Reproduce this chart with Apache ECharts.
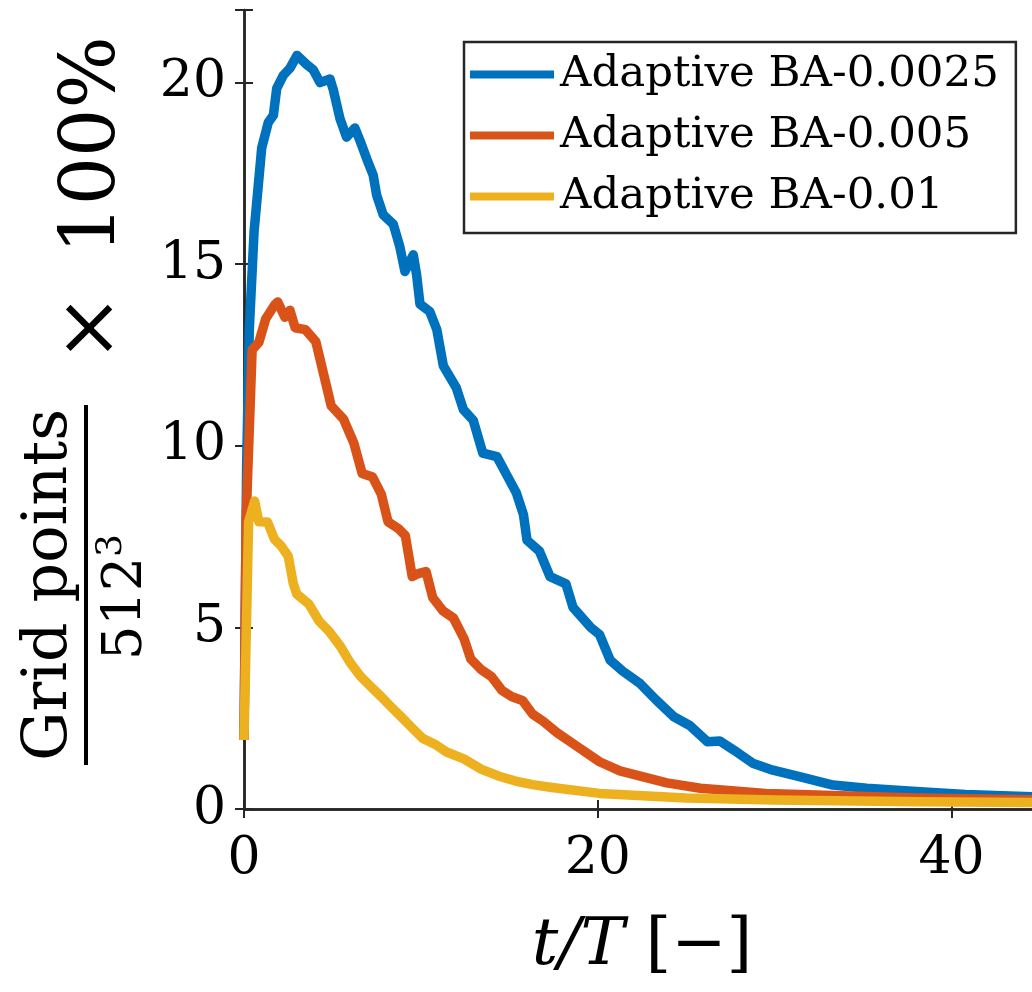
<!DOCTYPE html>
<html>
<head>
<meta charset="utf-8">
<script src="https://cdn.jsdelivr.net/npm/echarts@6/dist/echarts.min.js"></script>
<style>html,body{margin:0;padding:0;background:#fff;}#c{width:1032px;height:992px;}</style>
</head>
<body>
<div id="c"></div>
<script>
const seriesNames = ['Adaptive BA-0.0025', 'Adaptive BA-0.005', 'Adaptive BA-0.01'];
const xTicks = [0, 20, 40];
const yTicks = [0, 5, 10, 15, 20];

const tBlue = [0, 0.15, 0.3, 0.57, 1.0, 1.37, 1.66, 1.85, 2.22, 2.6, 3.0, 3.54, 3.92, 4.3, 4.86, 5.05, 5.43, 5.8, 6.27, 6.56, 6.94, 7.3, 7.5, 7.87, 8.44, 8.8, 9.1, 9.57, 9.76, 9.95, 10.5, 10.9, 11.27, 12.0, 12.4, 12.96, 13.5, 14.3, 14.85, 15.4, 15.8, 16.0, 16.7, 17.3, 18.2, 18.6, 19.6, 20.1, 20.7, 21.4, 22.4, 23.3, 24.3, 25.2, 26.2, 26.9, 27.7, 28.8, 29.9, 31.4, 33.3, 35.2, 38.0, 40.8, 45];
const vBlue = [1.9, 9.5, 13.2, 15.9, 18.2, 18.9, 19.1, 19.84, 20.2, 20.4, 20.75, 20.5, 20.35, 20.0, 20.1, 19.8, 19.0, 18.5, 18.75, 18.4, 17.9, 17.46, 16.9, 16.36, 16.1, 15.5, 14.8, 15.26, 14.7, 13.9, 13.7, 13.2, 12.2, 11.6, 11.0, 10.7, 9.8, 9.7, 9.2, 8.7, 8.1, 7.4, 7.1, 6.4, 6.2, 5.55, 5.0, 4.8, 4.1, 3.8, 3.45, 3.0, 2.54, 2.3, 1.85, 1.87, 1.62, 1.25, 1.07, 0.89, 0.66, 0.57, 0.48, 0.4, 0.33];

const tOrange = [0, 0.12, 0.46, 0.84, 1.23, 1.72, 1.91, 2.31, 2.6, 2.89, 3.47, 4.06, 4.64, 4.93, 5.62, 6.2, 6.68, 7.27, 7.76, 8.14, 8.73, 9.12, 9.51, 9.9, 10.29, 10.67, 11.26, 11.84, 12.43, 12.82, 13.4, 13.98, 14.57, 15.15, 15.74, 16.32, 16.9, 17.7, 18.6, 20.1, 21.25, 23.9, 25.8, 29.5, 33.3, 38, 45];
const vOrange = [1.9, 8.0, 12.64, 12.85, 13.5, 13.87, 13.96, 13.54, 13.73, 13.25, 13.2, 12.87, 11.69, 11.1, 10.74, 10.09, 9.24, 9.14, 8.67, 7.91, 7.72, 7.53, 6.4, 6.49, 6.54, 5.82, 5.45, 5.26, 4.7, 4.13, 3.84, 3.65, 3.27, 3.09, 2.99, 2.61, 2.42, 2.1, 1.8, 1.3, 1.05, 0.72, 0.57, 0.43, 0.37, 0.3, 0.25];

const tYellow = [0, 0.26, 0.6, 0.84, 1.33, 1.72, 2.11, 2.5, 2.79, 2.98, 3.67, 4.25, 4.83, 5.42, 6.0, 6.59, 7.17, 7.76, 8.34, 8.92, 9.51, 10.09, 10.87, 11.45, 12.43, 13.4, 14.37, 15.35, 16.32, 17.3, 20.1, 25, 30, 38, 45];
const vYellow = [1.9, 7.9, 8.48, 7.91, 7.9, 7.43, 7.24, 6.96, 6.2, 5.92, 5.64, 5.17, 4.88, 4.5, 4.03, 3.65, 3.37, 3.09, 2.8, 2.52, 2.23, 1.95, 1.76, 1.57, 1.38, 1.1, 0.91, 0.77, 0.67, 0.6, 0.43, 0.3, 0.25, 0.2, 0.18];

const colors = ['#0072BD', '#D95319', '#EDB120'];
const axisColor = '#262626';
const serif = '"DejaVu Serif", "Liberation Serif", serif';

function pairs(t, v) { return t.map((x, i) => [x, v[i]]); }

const chart = echarts.init(document.getElementById('c'), null, { renderer: 'canvas' });

const baseAxisLine = { show: true, lineStyle: { color: axisColor, width: 2.5 } };
const tickStyle = { show: true, inside: true, length: 9, lineStyle: { color: axisColor, width: 2 } };

chart.setOption({
  animation: false,
  backgroundColor: '#fff',
  color: colors,
  grid: { left: 244, top: 10, right: -8, bottom: 183, containLabel: false, outerBoundsMode: 'none' },
  legend: {
    orient: 'vertical',
    left: 464,
    top: 42,
    icon: 'rect',
    itemWidth: 84,
    itemHeight: 8,
    itemGap: 8,
    padding: [6, 17, 10, 6],
    borderColor: axisColor,
    borderWidth: 2.5,
    backgroundColor: '#fff',
    textStyle: { fontFamily: serif, fontSize: 43.5, color: '#000', lineHeight: 53, padding: [0, 0, 0, 1] },
    data: seriesNames
  },
  xAxis: [{
    type: 'value', min: 0, max: 45, interval: 20, position: 'bottom',
    axisLine: baseAxisLine, axisTick: tickStyle, splitLine: { show: false },
    axisLabel: { show: true, fontFamily: serif, fontSize: 52, color: '#000', margin: 24,
      formatter: v => (xTicks.indexOf(v) >= 0 ? String(v) : '') },
    name: '{i|t/T}{n|\u00A0[\u2212]}',
    nameLocation: 'middle', nameGap: 105,
    nameTextStyle: { rich: {
      i: { fontFamily: serif, fontStyle: 'italic', fontSize: 66, color: '#000' },
      n: { fontFamily: serif, fontSize: 66, color: '#000' }
    } }
  }, {
    type: 'value', min: 0, max: 45, interval: 20, position: 'top',
    axisLine: baseAxisLine, axisTick: tickStyle, axisLabel: { show: false }, splitLine: { show: false }
  }],
  yAxis: [{
    type: 'value', min: 0, max: 22, interval: 5, position: 'left',
    axisLine: baseAxisLine, axisTick: tickStyle, splitLine: { show: false },
    axisLabel: { show: true, fontFamily: serif, fontSize: 52, color: '#000', margin: 18,
      formatter: v => (yTicks.indexOf(v) >= 0 ? String(v) : '') }
  }, {
    type: 'value', min: 0, max: 22, interval: 5, position: 'right',
    axisLine: baseAxisLine, axisTick: tickStyle, axisLabel: { show: false }, splitLine: { show: false }
  }],
  graphic: [
    { type: 'text', x: 50, y: 585, rotation: Math.PI / 2,
      style: { text: 'Grid points', font: '62px ' + serif, fill: '#000', align: 'center', verticalAlign: 'middle' } },
    { type: 'rect', shape: { x: 84, y: 405, width: 4, height: 360 }, style: { fill: '#000' } },
    { type: 'text', x: 124, y: 597, rotation: Math.PI / 2,
      style: { text: '{a|512}{b|3}', fill: '#000', align: 'center', verticalAlign: 'middle',
        rich: {
          a: { fontFamily: serif, fontSize: 54, fill: '#000', lineHeight: 60, verticalAlign: 'bottom' },
          b: { fontFamily: serif, fontSize: 36, fill: '#000', lineHeight: 60, verticalAlign: 'top', padding: [0, 0, 20, 0] }
        } } },
    { type: 'text', x: 94, y: 145, rotation: Math.PI / 2,
      style: { text: '100%', font: '76px ' + serif, fill: '#000', align: 'center', verticalAlign: 'middle' } },
    { type: 'text', x: 94, y: 328, rotation: Math.PI / 2,
      style: { text: '\u00D7', font: '82px ' + serif, fill: '#000', align: 'center', verticalAlign: 'middle' } }
  ],
  series: [
    { name: seriesNames[0], type: 'line', data: pairs(tBlue, vBlue), showSymbol: false, symbol: 'none',
      lineStyle: { width: 9.5, color: colors[0], join: 'round' }, itemStyle: { color: colors[0] } },
    { name: seriesNames[1], type: 'line', data: pairs(tOrange, vOrange), showSymbol: false, symbol: 'none',
      lineStyle: { width: 9.5, color: colors[1], join: 'round' }, itemStyle: { color: colors[1] } },
    { name: seriesNames[2], type: 'line', data: pairs(tYellow, vYellow), showSymbol: false, symbol: 'none',
      lineStyle: { width: 9.5, color: colors[2], join: 'round' }, itemStyle: { color: colors[2] } }
  ]
});
</script>
</body>
</html>
